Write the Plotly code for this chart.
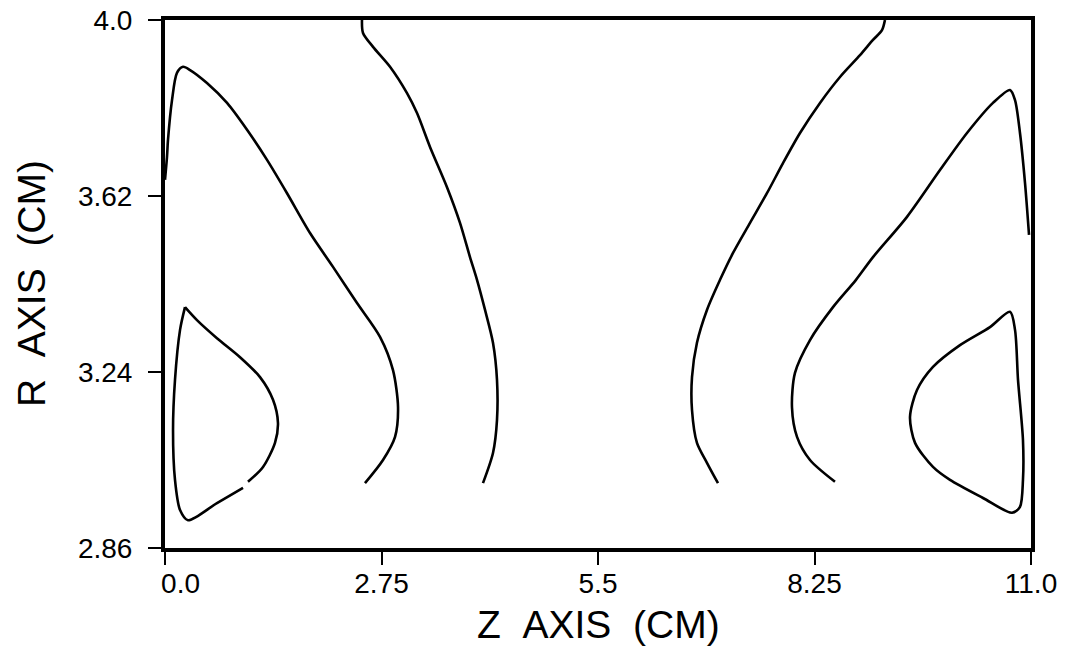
from plotly import graph_objects as go

# contour lines, z (cm) and r (cm)
outer_left_z = [0.0, 0.025, 0.038, 0.089, 0.152, 0.229, 0.318, 0.533, 0.788, 1.042, 1.296,
                1.550, 1.842, 2.134, 2.439, 2.731, 2.896, 2.960, 2.922, 2.769, 2.540]
outer_left_r = [3.655, 3.704, 3.741, 3.827, 3.886, 3.899, 3.892, 3.864, 3.821, 3.763, 3.698,
                3.626, 3.540, 3.467, 3.389, 3.316, 3.244, 3.164, 3.100, 3.050, 3.000]

# small break in the lower edge of the left loop (None)
loop_left_z = [0.254, 0.406, 0.660, 0.953, 1.207, 1.372, 1.435, 1.397, 1.245, 1.054, None, 0.991,
               0.660, 0.292, 0.191, 0.127, 0.102, 0.127, 0.191, 0.254]
loop_left_r = [3.380, 3.352, 3.313, 3.272, 3.229, 3.180, 3.130, 3.087, 3.035, 3.003, None, 2.990,
               2.957, 2.920, 2.942, 3.007, 3.115, 3.223, 3.331, 3.380]

mid_left_z = [2.502, 2.515, 2.642, 2.858, 3.074, 3.201, 3.366, 3.582, 3.747, 3.874, 3.963,
              4.065, 4.166, 4.217, 4.217, 4.166, 4.039]
mid_left_r = [4.000, 3.972, 3.942, 3.899, 3.842, 3.799, 3.726, 3.639, 3.562, 3.488, 3.439,
              3.374, 3.303, 3.223, 3.136, 3.065, 3.000]

mid_right_z = [9.145, 9.107, 8.993, 8.828, 8.574, 8.320, 8.066, 7.850, 7.646, 7.431, 7.215,
               7.050, 6.884, 6.757, 6.694, 6.694, 6.757, 6.884, 7.024]
mid_right_r = [4.000, 3.978, 3.957, 3.924, 3.877, 3.821, 3.756, 3.691, 3.626, 3.562, 3.497,
               3.439, 3.374, 3.303, 3.229, 3.158, 3.087, 3.044, 3.000]

outer_right_z = [8.510, 8.193, 8.028, 7.964, 8.002, 8.193, 8.485, 8.777, 8.993, 9.425, 9.844,
                 10.187, 10.517, 10.733, 10.797, 10.860, 10.924, 10.975]
outer_right_r = [3.003, 3.050, 3.100, 3.164, 3.238, 3.309, 3.380, 3.439, 3.488, 3.575, 3.676,
                 3.756, 3.821, 3.849, 3.827, 3.756, 3.648, 3.536]

loop_right_z = [10.733, 10.479, 10.098, 9.755, 9.552, 9.463, 9.527, 9.755, 9.971, 10.390,
                10.759, 10.860, 10.898, 10.898, 10.835, 10.797, 10.733]
loop_right_r = [3.370, 3.337, 3.298, 3.251, 3.201, 3.143, 3.087, 3.035, 3.007, 2.968,
                2.936, 2.949, 3.007, 3.093, 3.223, 3.331, 3.370]

x_ticks = [0.0, 2.75, 5.5, 8.25, 11.0]
x_labels = ["\u00a0\u00a0\u00a0\u00a00.0", "2.75", "5.5", "8.25", "11.0"]
y_ticks = [2.86, 3.24, 3.62, 4.0]
y_labels = ["2.86", "3.24", "3.62", "4.0"]

FONT = "Liberation Sans, Arial, Helvetica, sans-serif"
SP = "\u00a0\u00a0"

fig = go.Figure()
curves = [
    (outer_left_z, outer_left_r),
    (loop_left_z, loop_left_r),
    (mid_left_z, mid_left_r),
    (mid_right_z, mid_right_r),
    (outer_right_z, outer_right_r),
    (loop_right_z, loop_right_r),
]
for zs, rs in curves:
    fig.add_trace(
        go.Scatter(
            x=zs,
            y=rs,
            mode="lines",
            line=dict(color="black", width=2.6, shape="spline", smoothing=0.8),
            connectgaps=False,
            showlegend=False,
            hoverinfo="skip",
        )
    )

axis_style = dict(
    tickmode="array",
    ticks="outside",
    ticklen=13,
    tickwidth=2,
    tickcolor="black",
    tickfont=dict(size=28),
    ticklabeloverflow="allow",
    showline=True,
    linecolor="black",
    linewidth=4,
    mirror=True,
    showgrid=False,
    zeroline=False,
    automargin=False,
)

fig.update_layout(
    width=1067,
    height=649,
    plot_bgcolor="white",
    paper_bgcolor="white",
    font=dict(family=FONT, color="black"),
    margin=dict(l=165, r=36, t=20, b=101),
    xaxis=dict(range=[0, 11], tickvals=x_ticks, ticktext=x_labels,
               ticklabelstandoff=-6, **axis_style),
    yaxis=dict(range=[2.86, 4.0], tickvals=y_ticks, ticktext=y_labels,
               ticklabelstandoff=10, **axis_style),
)

# axis titles
fig.add_annotation(
    text=f"Z{SP}AXIS{SP}(CM)",
    xref="paper", yref="paper", x=0.5, y=0,
    xanchor="center", yanchor="middle", yshift=-76,
    showarrow=False, font=dict(size=39),
)
fig.add_annotation(
    text=f"R{SP}AXIS{SP}(CM)",
    xref="paper", yref="paper", x=0, y=0.5,
    xanchor="center", yanchor="middle", xshift=-134,
    textangle=-90, showarrow=False, font=dict(size=39),
)

# drop the default 8px page margin so the figure fills the window
fig.write_html(
    "out.html",
    config={"displayModeBar": False},
    post_script="document.body.style.margin='0';document.body.style.overflow='hidden';",
)
